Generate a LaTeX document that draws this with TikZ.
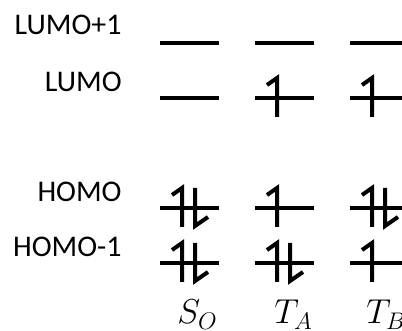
\documentclass[tikz,border=0pt]{standalone}
\usepackage{fontspec}
\setmainfont{Carlito}
\tikzset{
  level/.style={line width=2pt},
  spin/.style={line width=2pt,line join=miter},
  orblabel/.style={anchor=base east,inner sep=0pt,font=\fontsize{15}{18}\selectfont},
  statelabel/.style={anchor=base west,inner sep=0pt,font=\fontsize{17}{20}\selectfont},
  pics/upspin/.style={code={\draw[spin] (-10,-13) -- (0,-20) -- (0,19);}},
  pics/downspin/.style={code={\draw[spin] (0,-20) -- (0,18) -- (13,9);}}
}
\begin{document}
\begin{tikzpicture}[x=0.5pt,y=-0.5pt]
  \useasboundingbox (0,0) rectangle (402,331);
  \clip (0,0) rectangle (402,331);
  % orbital names
  \node[orblabel] (lumoa) at (122,35) {LUMO+1};
  \node[orblabel] (lumo)  at (122,92) {LUMO};
  \node[orblabel] (homo)  at (122,202) {HOMO};
  \node[orblabel] (homob) at (122,257) {HOMO-1};
  % levels
  \foreach \x in {160,255,350}
    \foreach \y in {43,98,208,263}
      \draw[level] (\x,\y) -- ++(59,0);
  % S0
  \pic at (182,208) {upspin};  \pic at (195,208) {downspin};
  \pic at (182,263) {upspin};  \pic at (195,263) {downspin};
  % TA
  \pic at (277,98) {upspin};
  \pic at (277,208) {upspin};
  \pic at (277,263) {upspin};  \pic at (290,263) {downspin};
  % TB
  \pic at (372,98) {upspin};
  \pic at (372,208) {upspin};  \pic at (385,208) {downspin};
  \pic at (372,263) {upspin};
  % states
  \node[statelabel] (s0) at (177,324) {$S_O$};
  \node[statelabel] (ta) at (274,324) {$T_A$};
  \node[statelabel] (tb) at (366,324) {$T_B$};
\end{tikzpicture}
\end{document}
